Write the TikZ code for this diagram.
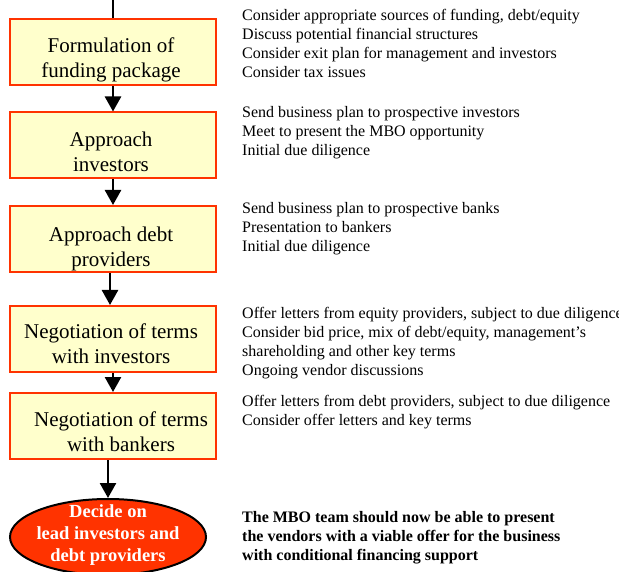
\documentclass[tikz,border=0pt]{standalone}
\usepackage{fontspec}
\setmainfont{Liberation Serif}
\usetikzlibrary{arrows.meta,shapes.geometric}
\definecolor{boxred}{HTML}{FF3300}
\definecolor{boxyellow}{HTML}{FFFFCC}
\begin{document}
\begin{tikzpicture}[x=1pt,y=-1pt,
  stepbox/.style={draw=boxred, fill=boxyellow, line width=2pt, minimum width=206pt, minimum height=66pt, inner sep=0pt},
  boxtext/.style={font=\fontsize{21}{25}\selectfont, align=center, inner sep=0pt, anchor=base},
  note/.style={font=\fontsize{16}{19}\selectfont, align=left, anchor=base west, inner sep=0pt},
  flow/.style={line width=2.5pt, -{Triangle[width=16pt,length=15pt]}}]
\useasboundingbox (0,0) rectangle (619,572);
\clip (0,0) rectangle (619,572);

\node[stepbox] (b1) at (112.5,52) {};
\node[stepbox] (b2) at (112.5,145.5) {};
\node[stepbox] (b3) at (112.5,239) {};
\node[stepbox] (b4) at (112.5,339) {};
\node[stepbox] (b5) at (112.5,426) {};
\node[ellipse, draw=black, fill=boxred, line width=2pt, minimum width=196pt, minimum height=76pt, inner sep=0pt] (e) at (108,537) {};

\node[boxtext] (t1) at (111,78) {Formulation of\\funding package};
\node[boxtext] (t2) at (111,172) {Approach\\investors};
\node[boxtext] (t3) at (111,267) {Approach debt\\providers};
\node[boxtext] (t4) at (111,363) {Negotiation of terms\\with investors};
\node[boxtext] (t5) at (121,451) {Negotiation of terms\\with bankers};
\node[font=\fontsize{18.5}{22}\selectfont\bfseries, text=white, align=center, inner sep=0pt, anchor=base] (te) at (108,561) {Decide on\\lead investors and\\debt providers};

\coordinate (top) at (113,0);
\draw[line width=2.5pt] (top) -- (top |- b1.north);
\draw[flow] (113,0 |- b1.south) -- (113,0 |- b2.north);
\draw[flow] (113,0 |- b2.south) -- (113,0 |- b3.north);
\draw[flow] (110,0 |- b3.south) -- (110,0 |- b4.north);
\draw[flow] (113,0 |- b4.south) -- (113,0 |- b5.north);
\draw[flow] (108,0 |- b5.south) -- (e.north);

\node[note] (n1) at (242,77.7) {Consider appropriate sources of funding, debt/equity\\Discuss potential financial structures\\Consider exit plan for management and investors\\Consider tax issues};
\node[note] (n2) at (242,155.5) {Send business plan to prospective investors\\Meet to present the MBO opportunity\\Initial due diligence};
\node[note] (n3) at (242,252) {Send business plan to prospective banks\\Presentation to bankers\\Initial due diligence};
\node[note] (n4) at (242,375) {Offer letters from equity providers, subject to due diligence\\Consider bid price, mix of debt/equity, management’s\\shareholding and other key terms\\Ongoing vendor discussions};
\node[note] (n5) at (242,425) {Offer letters from debt providers, subject to due diligence\\Consider offer letters and key terms};
\node[note, font=\fontsize{16}{19}\selectfont\bfseries] (n6) at (242,560) {The MBO team should now be able to present\\the vendors with a viable offer for the business\\with conditional financing support};
\end{tikzpicture}
\end{document}
